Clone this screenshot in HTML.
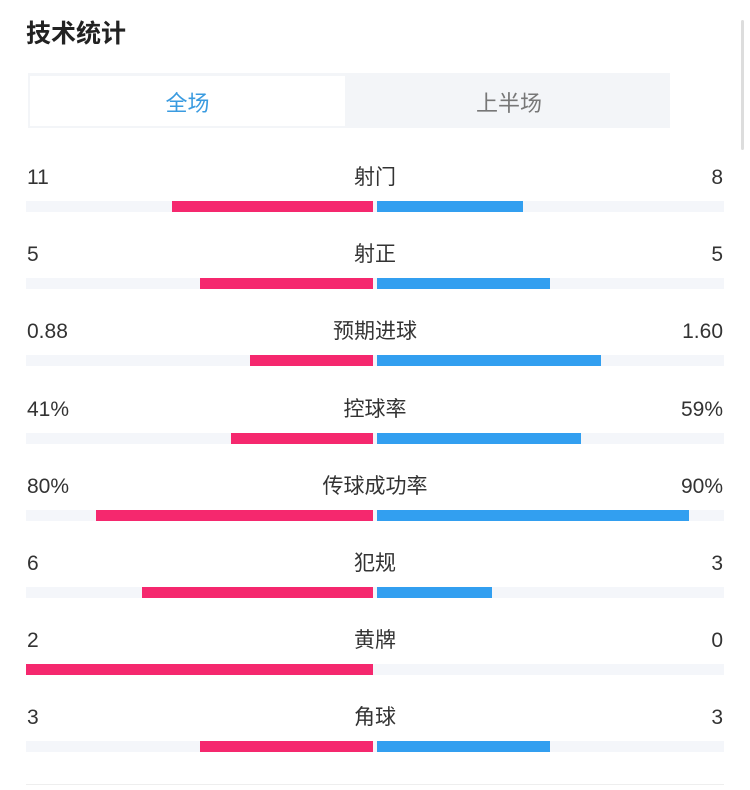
<!DOCTYPE html>
<html><head><meta charset="utf-8"><style>
body{margin:0;width:750px;height:790px;background:#fff;font-family:"Liberation Sans","Noto Sans CJK SC",sans-serif;position:relative;overflow:hidden;color:#333}
.a{position:absolute}
.t{font-size:21px;color:#333;line-height:24px}
.track{position:absolute;left:26px;width:698px;height:11px;background:#f4f6fa}
.r{position:absolute;height:11px;background:#f5286e}
.b{position:absolute;height:11px;background:#329ff0}
</style></head><body>
<div class="a" style="left:26px;top:14px;font-size:25px;font-weight:bold;color:#222">技术统计</div>
<div class="a" style="left:741px;top:20px;width:3px;height:130px;background:#ddd;border-radius:2px"></div>
<div class="a" style="left:28px;top:73px;width:642px;height:55px;background:#f3f5f8"></div>
<div class="a" style="left:30px;top:76px;width:315px;height:50px;background:#fff"></div>
<div class="a" style="left:30px;top:86px;width:315px;text-align:center;font-size:22px;color:#3a9be0">全场</div>
<div class="a" style="left:350px;top:86px;width:318px;text-align:center;font-size:22px;color:#777">上半场</div>
<div id="rows"></div>
<div class="a" style="left:26px;top:784px;width:698px;height:1px;background:#eee"></div>
<script>
var d=[["11","射门","8",172,523],["5","射正","5",200,550],["0.88","预期进球","1.60",250,601],["41%","控球率","59%",231,581],["80%","传球成功率","90%",96,689],["6","犯规","3",142,492],["2","黄牌","0",26,377],["3","角球","3",200,550]];
var h="";
d.forEach(function(x,i){var y=166+i*77.2,by=201+i*77.2;
h+='<div class="a t" style="left:27px;top:'+y+'px">'+x[0]+'</div>';
h+='<div class="a t" style="left:275px;width:200px;text-align:center;top:'+y+'px">'+x[1]+'</div>';
h+='<div class="a t" style="right:27px;top:'+y+'px">'+x[2]+'</div>';
h+='<div class="track" style="top:'+by+'px"></div>';
h+='<div class="r" style="top:'+by+'px;left:'+x[3]+'px;width:'+(373-x[3])+'px"></div>';
if(x[4]>377)h+='<div class="b" style="top:'+by+'px;left:377px;width:'+(x[4]-377)+'px"></div>';
});
document.getElementById("rows").innerHTML=h;
</script>
</body></html>
